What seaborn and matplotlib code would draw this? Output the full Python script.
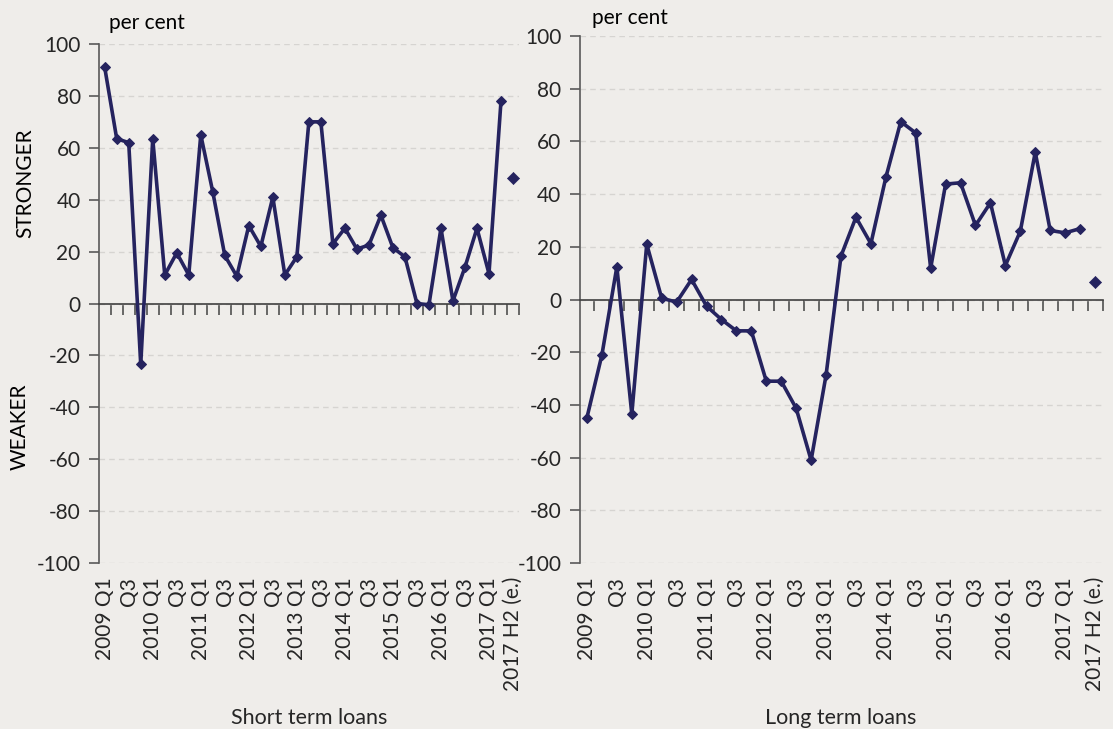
import numpy as np
import pandas as pd
import seaborn as sns
import matplotlib
matplotlib.use("Agg")
import matplotlib.pyplot as plt
from matplotlib.ticker import FixedLocator, NullFormatter

# ---------------- data ----------------
quarters = [f"{y} Q{q}" for y in range(2009, 2018) for q in range(1, 5)][:34]
estimate_label = "2017 H2 (e.)"

short_term = [91, 63.5, 62, -23.5,
              63.5, 11, 19.5, 11,
              65, 43, 18.5, 10.5,
              30, 22, 41, 11,
              18, 70, 70, 23,
              29, 21, 22.5, 34,
              21.5, 18, 0, -0.5,
              29, 1, 14, 29,
              11.5, 78]
short_term_est = [48.5]

long_term = [-44.8, -21, 12.4, -43.5,
             21, 0.5, -1, 7.6,
             -2.5, -7.6, -11.9, -11.9,
             -31, -31, -41.3, -61,
             -28.7, 16.5, 31.2, 21.2,
             46.3, 67.5, 63.2, 11.9,
             43.8, 44.3, 28.1, 36.7,
             12.9, 25.9, 55.9, 26.2,
             25.3, 26.9]
long_term_est = [6.6]

categories = quarters + [estimate_label]
tick_labels = []
for c in categories:
    if c == estimate_label or c.endswith("Q1"):
        tick_labels.append(c)
    elif c.endswith("Q3"):
        tick_labels.append("Q3")
    else:
        tick_labels.append(None)

panel_titles = ["Short term loans", "Long term loans"]

# ---------------- style ----------------
BG = "#EFEDEA"
LINE = "#25235F"
GRID = "#D6D4D1"
SPINE = "#595959"
FONT = ["Lato", "DejaVu Sans"]

sns.set_theme(style="white")
plt.rcParams["font.family"] = FONT
plt.rcParams["font.size"] = 15
plt.rcParams["text.color"] = "black"
plt.rcParams["axes.unicode_minus"] = False

fig = plt.figure(figsize=(11.13, 7.29), dpi=100)
fig.patch.set_facecolor(BG)

W, H = 1113, 729
def px_axes(x0, x1, ytop, ybot):
    return [x0 / W, 1 - ybot / H, (x1 - x0) / W, (ybot - ytop) / H]

ax_l = fig.add_axes(px_axes(98.7, 519, 44, 563))
ax_r = fig.add_axes(px_axes(579.5, 1102.5, 36, 563))

n = len(categories)
x_q = np.arange(len(quarters))
x_e = [n - 1]

for ax, vals, est, title in [(ax_l, short_term, short_term_est, panel_titles[0]),
                             (ax_r, long_term, long_term_est, panel_titles[1])]:
    ax.set_facecolor(BG)
    df = pd.DataFrame({"x": x_q, "y": vals})
    sns.lineplot(data=df, x="x", y="y", ax=ax, color=LINE, linewidth=2.6,
                 marker="D", markersize=5.5, markeredgecolor=LINE,
                 markerfacecolor=LINE, zorder=3)
    dfe = pd.DataFrame({"x": x_e, "y": est})
    sns.scatterplot(data=dfe, x="x", y="y", ax=ax, color=LINE, marker="D",
                    s=38, edgecolor=LINE, zorder=3)
    ax.set_xlim(-0.5, n - 0.5)
    ax.set_ylim(-100, 100)
    ax.set_yticks(np.arange(-100, 101, 20))
    ax.yaxis.grid(True, color=GRID, linestyle=(0, (4, 3)), linewidth=1.0, zorder=0)
    ax.xaxis.grid(False)
    ax.set_axisbelow(True)
    for s in ["top", "right"]:
        ax.spines[s].set_visible(False)
    ax.spines["left"].set_color(SPINE)
    ax.spines["left"].set_linewidth(1.2)
    ax.spines["bottom"].set_position(("data", 0))
    ax.spines["bottom"].set_color("#404040")
    ax.spines["bottom"].set_linewidth(1.2)
    ax.spines["left"].set_zorder(2)
    ax.spines["bottom"].set_zorder(2)
    ax.tick_params(axis="y", direction="out", length=7, width=1.2, color=SPINE,
                   left=True, labelsize=15, pad=6)
    ax.xaxis.set_major_locator(FixedLocator(np.arange(0.5, n, 1.0)))
    ax.xaxis.set_major_formatter(NullFormatter())
    ax.tick_params(axis="x", direction="out", length=8, width=1.2, color="#505050",
                   bottom=True)
    ax.set_xlabel("")
    ax.set_ylabel("")
    sec = ax.secondary_xaxis("bottom")
    pos = [i for i, t in enumerate(tick_labels) if t]
    labs = [t for t in tick_labels if t]
    sec.set_xticks(pos, labs, rotation=90, fontsize=15)
    sec.tick_params(axis="x", length=0, pad=10)
    sec.spines["bottom"].set_visible(False)
    sec.set_xlabel(title, fontsize=15.5, labelpad=12)

fig.text(109 / W, 1 - 23 / H, "per cent", fontsize=15, va="center", ha="left")
fig.text(592 / W, 1 - 18 / H, "per cent", fontsize=15, va="center", ha="left")
fig.text(25 / W, 1 - 183 / H, "STRONGER", fontsize=15, rotation=90, va="center", ha="center")
fig.text(20 / W, 1 - 427 / H, "WEAKER", fontsize=15, rotation=90, va="center", ha="center")

fig.savefig("out.png", dpi=100, facecolor=BG)
